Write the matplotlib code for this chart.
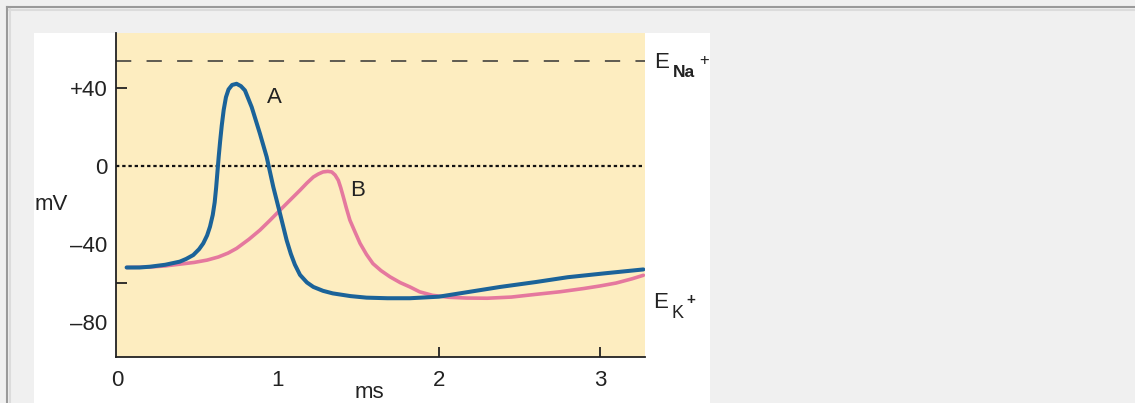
import numpy as np
import matplotlib as mpl
import matplotlib.pyplot as plt
from matplotlib.patches import Rectangle
from matplotlib.lines import Line2D

mpl.rcParams['font.family'] = ['Liberation Sans', 'DejaVu Sans']

# action potential A (blue)
t_a = [0.06, 0.14, 0.205, 0.30, 0.39, 0.43, 0.474, 0.51, 0.536, 0.56, 0.578,
       0.595, 0.607, 0.616, 0.624, 0.632, 0.641, 0.651, 0.663, 0.677, 0.693,
       0.715, 0.743, 0.77, 0.795, 0.837, 0.888, 0.93, 0.971, 1.012, 1.054,
       1.08, 1.105, 1.137, 1.18, 1.22, 1.28, 1.34, 1.45, 1.55, 1.68, 1.82,
       2.00, 2.19, 2.38, 2.60, 2.80, 3.03, 3.27]
v_a = [-52, -52, -51.6, -50.6, -49, -47.6, -45.6, -42.6, -39.6, -35.5, -31,
       -25, -18.5, -11, -3, 5, 13, 21, 29, 35.5, 39.5,
       41.8, 42.4, 41.2, 39, 30.4, 16.8, 4.8, -10.6, -24, -38,
       -45, -50.5, -55.8, -59.7, -62, -64, -65.3, -66.7, -67.5, -67.8, -67.8,
       -67, -64.5, -62, -59.5, -57, -55, -53]

# action potential B (pink)
t_b = [0.06, 0.20, 0.30, 0.39, 0.48, 0.56, 0.63, 0.69, 0.743, 0.82, 0.888,
       0.95, 1.012, 1.075, 1.137, 1.18, 1.22, 1.25, 1.28, 1.31, 1.334, 1.355,
       1.375, 1.39, 1.406, 1.425, 1.447, 1.48, 1.51, 1.55, 1.59, 1.64, 1.696,
       1.76, 1.82, 1.88, 1.96, 2.06, 2.17, 2.30, 2.45, 2.58, 2.75, 2.90, 3.00,
       3.10, 3.20, 3.27]
v_b = [-52, -51.8, -51.2, -50.3, -49.4, -48.2, -46.6, -44.6, -42.2, -37.5, -32.8,
       -27.8, -22.6, -17.4, -12.3, -8.6, -5.5, -4, -2.9, -2.6, -2.9, -4.5,
       -7.2, -11, -15.7, -21.5, -27.7, -34, -39.6, -45.3, -50, -53.6, -56.8,
       -59.8, -62, -64.5, -66.3, -67.3, -67.7, -67.8, -67.2, -66, -64.5, -62.8,
       -61.5, -60, -57.8, -56]

E_NA = 54
E_K = -70

yticks = [40, 0, -40, -80]
ytick_labels = ['+40', '0', '\u201340', '\u201380']
xticks = [0, 1, 2, 3]

W, H = 1135, 403
fig = plt.figure(figsize=(W / 100, H / 100), dpi=100)
fig.patch.set_facecolor('#f0f0f0')


def fx(px):
    return px / W


def fy(py):
    return 1 - py / H


# screenshot frame and white panel
fig.add_artist(Line2D([fx(7), fx(7)], [fy(7), 0], color='#9a9a9a', lw=1.5))
fig.add_artist(Line2D([fx(7), 1], [fy(7), fy(7)], color='#9a9a9a', lw=1.5))
fig.add_artist(Line2D([fx(9.5), fx(9.5)], [fy(9), 0], color='#dcdcdc', lw=1.5))
fig.add_artist(Line2D([fx(9), 1], [fy(9.5), fy(9.5)], color='#dcdcdc', lw=1.5))
fig.add_artist(Rectangle((fx(34), 0), fx(710) - fx(34), fy(33),
                         facecolor='white', edgecolor='none', zorder=0))

ax = fig.add_axes([fx(116), fy(357), fx(645) - fx(116), fy(33) - fy(357)])
ax.set_facecolor('#fdedc0')
ax.set_xlim(-0.006, 3.28)
ax.set_ylim(-98, 68.5)

for s in ['top', 'right']:
    ax.spines[s].set_visible(False)
for s in ['left', 'bottom']:
    ax.spines[s].set_linewidth(1.3)
    ax.spines[s].set_color('#222222')

ax.yaxis.remove_overlapping_locs = False
ax.xaxis.remove_overlapping_locs = False
ax.set_yticks(yticks)
ax.set_yticklabels(ytick_labels)
ax.set_xticks(xticks)
ax.tick_params(axis='both', length=0, labelsize=16, colors='#222222')
ax.tick_params(axis='y', pad=6)
ax.tick_params(axis='x', pad=9)
ax.set_yticks([40, -60], minor=True)
ax.set_xticks([2, 3], minor=True)
ax.tick_params(axis='y', which='minor', direction='in', length=8, width=1.3,
               color='#222222')
ax.tick_params(axis='x', which='minor', direction='in', length=7, width=1.3,
               color='#222222')

ax.axhline(E_NA, color='#333333', lw=1.1, dashes=(10, 10))
ax.axhline(0, color='#111111', lw=1.6, dashes=(1.5, 1.3), xmax=0.995)

ax.plot(t_b, v_b, '-', color='#e5789e', lw=2.6, solid_capstyle='round',
        solid_joinstyle='round')
ax.plot(t_a, v_a, '-', color='#1b6399', lw=2.9, solid_capstyle='round',
        solid_joinstyle='round')

ax.text(0.98, 35.5, 'A', fontsize=16, ha='center', va='center', color='#222222')
ax.text(1.497, -12.3, 'B', fontsize=16, ha='center', va='center', color='#222222')

# reversal potentials
yt = ax.get_yaxis_transform()
ax.text(1.018, E_NA - 0.5, 'E', transform=yt, fontsize=16,
        ha='left', va='center', color='#222222', clip_on=False)
ax.text(1.053, E_NA - 6, 'Na', transform=yt, fontsize=12.5,
        ha='left', va='center', color='#222222', fontweight='bold', clip_on=False)
ax.text(1.103, E_NA + 0.5, '+', transform=yt, fontsize=12,
        ha='left', va='center', color='#222222', clip_on=False)
ax.text(1.015, E_K, 'E', transform=yt, fontsize=16,
        ha='left', va='center', color='#222222', clip_on=False)
ax.text(1.051, E_K - 5.5, 'K', transform=yt, fontsize=13,
        ha='left', va='center', color='#222222', clip_on=False)
ax.text(1.078, E_K + 1.5, '+', transform=yt, fontsize=11,
        ha='left', va='center', color='#222222', fontweight='bold', clip_on=False)

fig.text(fx(35), fy(204), 'mV', fontsize=16, ha='left', va='center',
         color='#222222')
fig.text(fx(369), fy(393), 'ms', fontsize=16, ha='center', va='center',
         color='#222222')

fig.savefig('out.png', dpi=100, facecolor=fig.get_facecolor())
